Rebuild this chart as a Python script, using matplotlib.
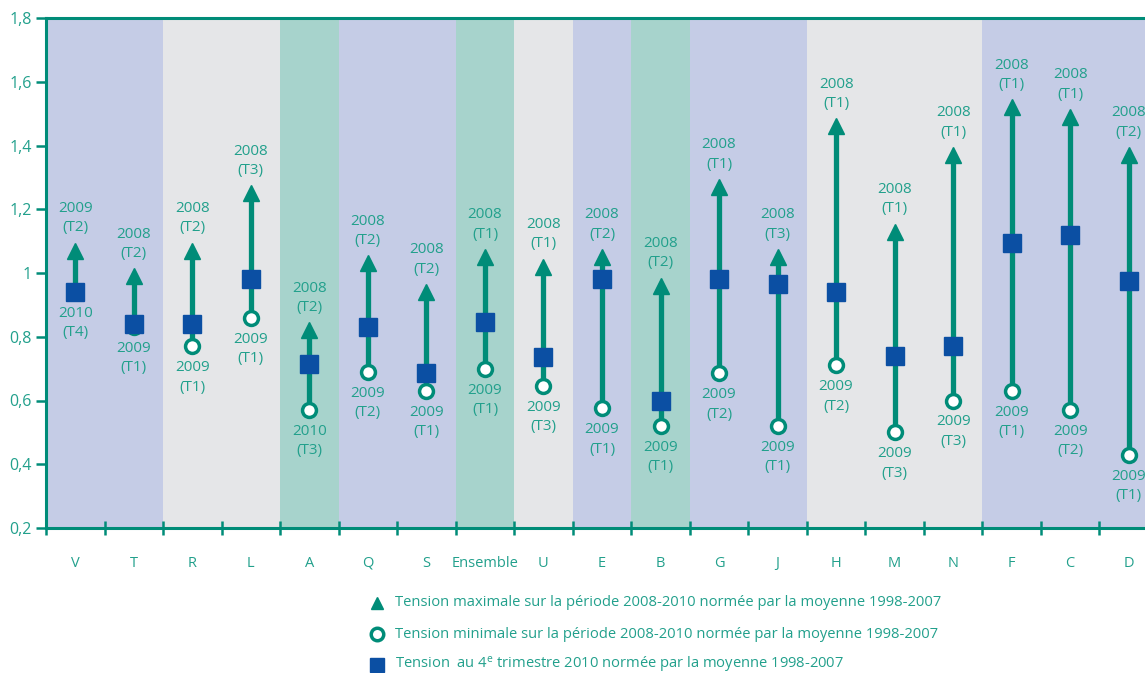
import matplotlib
matplotlib.use("Agg")
import matplotlib.pyplot as plt
import numpy as np

plt.rcParams['font.family'] = ['Open Sans', 'DejaVu Sans']
plt.rcParams['mathtext.default'] = 'regular'

categories = ["V", "T", "R", "L", "A", "Q", "S", "Ensemble", "U", "E", "B", "G",
              "J", "H", "M", "N", "F", "C", "D"]
tension_max = [1.07, 0.99, 1.07, 1.25, 0.82, 1.03, 0.94, 1.05, 1.02, 1.05, 0.96, 1.27,
               1.05, 1.46, 1.13, 1.37, 1.52, 1.49, 1.37]
tension_min = [0.94, 0.83, 0.77, 0.86, 0.57, 0.69, 0.63, 0.70, 0.645, 0.575, 0.52, 0.685,
               0.52, 0.71, 0.50, 0.60, 0.63, 0.57, 0.43]
tension_t4_2010 = [0.94, 0.84, 0.84, 0.98, 0.715, 0.83, 0.685, 0.845, 0.735, 0.98, 0.60, 0.98,
                   0.965, 0.94, 0.74, 0.77, 1.095, 1.12, 0.975]
max_labels = ["2009\n(T2)", "2008\n(T2)", "2008\n(T2)", "2008\n(T3)", "2008\n(T2)", "2008\n(T2)",
              "2008\n(T2)", "2008\n(T1)", "2008\n(T1)", "2008\n(T2)", "2008\n(T2)", "2008\n(T1)",
              "2008\n(T3)", "2008\n(T1)", "2008\n(T1)", "2008\n(T1)", "2008\n(T1)", "2008\n(T1)",
              "2008\n(T2)"]
min_labels = ["2010\n(T4)", "2009\n(T1)", "2009\n(T1)", "2009\n(T1)", "2010\n(T3)", "2009\n(T2)",
              "2009\n(T1)", "2009\n(T1)", "2009\n(T3)", "2009\n(T1)", "2009\n(T1)", "2009\n(T2)",
              "2009\n(T1)", "2009\n(T2)", "2009\n(T3)", "2009\n(T3)", "2009\n(T1)", "2009\n(T2)",
              "2009\n(T1)"]
band_groups = ["lav", "lav", "grey", "grey", "teal", "lav", "lav", "teal", "grey", "lav", "teal",
               "lav", "lav", "grey", "grey", "grey", "lav", "lav", "lav"]
y_ticks = [0.2, 0.4, 0.6, 0.8, 1.0, 1.2, 1.4, 1.6, 1.8]
y_ticklabels = ["0,2", "0,4", "0,6", "0,8", "1", "1,2", "1,4", "1,6", "1,8"]
legend_texts = [
    "Tension maximale sur la période 2008-2010 normée par la moyenne 1998-2007",
    "Tension minimale sur la période 2008-2010 normée par la moyenne 1998-2007",
    "Tension  au 4$^{e}$ trimestre 2010 normée par la moyenne 1998-2007",
]

TEAL = "#008c78"
TEXT = "#22a08c"
BLUE = "#0b4fa3"
band_colors = {"lav": "#c5cce6", "grey": "#e5e6e8", "teal": "#a7d3cc"}

W, H = 1145, 673
fig = plt.figure(figsize=(W / 100, H / 100), dpi=100)
ax = fig.add_axes([46 / W, 1 - 528 / H, 1112 / W, 510 / H])

n = len(categories)
x = np.arange(n) + 0.5
for i, g in enumerate(band_groups):
    ax.axvspan(i, i + 1, color=band_colors[g], lw=0, zorder=0)

ax.vlines(x, tension_min, tension_max, color=TEAL, lw=3.8, zorder=2)
ax.plot(x, tension_max, ls="none", marker="^", ms=12, color=TEAL, mec=TEAL, zorder=3)
ax.plot(x, tension_min, ls="none", marker="o", ms=10, mfc="white", mec=TEAL, mew=2.5, zorder=3)
ax.plot(x, tension_t4_2010, ls="none", marker="s", ms=12.5, color=BLUE, zorder=4)

for xi, vmax, vmin, lmax, lmin in zip(x, tension_max, tension_min, max_labels, min_labels):
    ax.annotate(lmax, (xi, vmax), xytext=(0, 11), textcoords="offset points",
                ha="center", va="bottom", fontsize=11, color=TEXT, linespacing=1.4)
    ax.annotate(lmin, (xi, vmin), xytext=(0, -10), textcoords="offset points",
                ha="center", va="top", fontsize=11, color=TEXT, linespacing=1.4)

ax.set_xlim(0, n)
ax.set_ylim(0.2, 1.8)
ax.set_yticks(y_ticks)
ax.set_yticklabels(y_ticklabels)
ax.set_xticks(np.arange(n + 1))
ax.set_xticklabels([])
ax.set_xticks(x, minor=True)
ax.set_xticklabels(categories, minor=True)
ax.tick_params(axis="x", which="major", direction="inout", length=10, width=1.8, color=TEAL)
ax.tick_params(axis="x", which="minor", length=0, pad=20, labelsize=10.5, labelcolor=TEXT)
ax.tick_params(axis="y", direction="out", length=7, width=1.8, color=TEAL, labelsize=11.5,
               labelcolor=TEXT, pad=3)
for s in ["left", "bottom", "top"]:
    ax.spines[s].set_color(TEAL)
    ax.spines[s].set_linewidth(2.2)
ax.spines["right"].set_visible(False)

# legend
lg = fig.add_axes([0, 0, 1, 1])
lg.set_xlim(0, W)
lg.set_ylim(H, 0)
lg.axis("off")
leg_y = [603, 634, 665]
lg.plot(377, leg_y[0], marker="^", ms=9, color=TEAL, ls="none")
lg.plot(377, leg_y[1], marker="o", ms=9, mfc="white", mec=TEAL, mew=2.5, ls="none")
lg.plot(377, leg_y[2], marker="s", ms=10, color=BLUE, ls="none")
for yy, t in zip(leg_y, legend_texts):
    lg.text(395, yy, t, ha="left", va="center", fontsize=10.6, color=TEXT)

fig.savefig("out.png", dpi=100)
